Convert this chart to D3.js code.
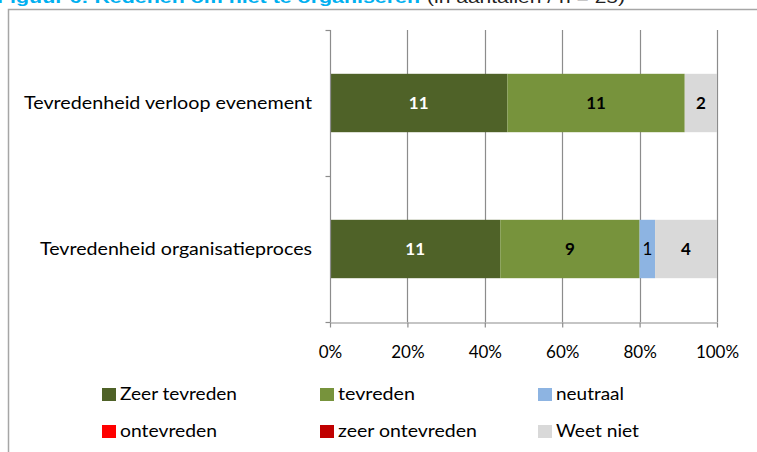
<!DOCTYPE html>
<html><head><meta charset="utf-8">
<script src="https://cdn.jsdelivr.net/npm/d3@7"></script>
<style>body{margin:0;background:#fff;}svg{display:block;}</style>
</head><body>
<svg id="c" width="757" height="452"></svg>
<script>
const categories = ["Tevredenheid verloop evenement", "Tevredenheid organisatieproces"];
const seriesNames = ["Zeer tevreden", "tevreden", "neutraal", "ontevreden", "zeer ontevreden", "Weet niet"];
const seriesColors = ["#4F6228", "#77933C", "#8DB4E2", "#FF0000", "#C00000", "#D9D9D9"];
const zeerTevreden = [11, 11];
const tevreden = [11, 9];
const neutraal = [0, 1];
const ontevreden = [0, 0];
const zeerOntevreden = [0, 0];
const weetNiet = [2, 4];
const xTicks = [0, 0.2, 0.4, 0.6, 0.8, 1.0];
const titleMain = "Figuur 6: Redenen om niet te organiseren";
const titleSub = "(in aantallen / n = 25)";

const svg = d3.select("#c");
const font = "Lato, 'Open Sans', sans-serif";

// cut-off title (only its lower part is visible in the frame)
svg.append("text").attr("x", -3).attr("y", 3).attr("font-family", "'Liberation Sans', Arial, sans-serif")
  .attr("font-size", 17).attr("font-weight", "bold").attr("fill", "#00B0F0")
  .attr("textLength", 423).attr("lengthAdjust", "spacingAndGlyphs").text(titleMain);
svg.append("text").attr("x", 427).attr("y", 3).attr("font-family", "'Liberation Sans', Arial, sans-serif")
  .attr("font-size", 16).attr("fill", "#222").attr("textLength", 198).attr("lengthAdjust", "spacingAndGlyphs").text(titleSub);

// frame
svg.append("path").attr("d", "M8.5,452 V9.5 H757").attr("fill", "none").attr("stroke", "#A6A6A6").attr("stroke-width", 1.5);

const series = [zeerTevreden, tevreden, neutraal, ontevreden, zeerOntevreden, weetNiet];
const rows = categories.map((c, i) => {
  const r = {cat: c};
  seriesNames.forEach((s, j) => r[s] = series[j][i]);
  return r;
});
const stacked = d3.stack().keys(seriesNames).offset(d3.stackOffsetExpand)(rows);

const x = d3.scaleLinear().domain([0, 1]).range([330, 717]);
const y = d3.scaleBand().domain(categories).range([30, 322]).paddingInner(0.6).paddingOuter(0.3);
const yb = d3.scaleBand().domain(categories).range([30, 322]);

const gridColor = "#8C8C8C";
// gridlines
svg.append("g").selectAll("line").data(xTicks.slice(1)).join("line")
  .attr("x1", d => Math.round(x(d)) + 0.5).attr("x2", d => Math.round(x(d)) + 0.5)
  .attr("y1", 30).attr("y2", 322).attr("stroke", gridColor).attr("stroke-width", 1.2);

// bars
const g = svg.append("g");
stacked.forEach((s, j) => {
  g.selectAll(null).data(s).join("rect")
    .attr("x", d => x(d[0])).attr("width", d => x(d[1]) - x(d[0]))
    .attr("y", d => y(d.data.cat)).attr("height", y.bandwidth())
    .attr("fill", seriesColors[j]);
});
// labels
stacked.forEach((s, j) => {
  g.selectAll(null).data(s.filter(d => d.data[s.key] > 0)).join("text")
    .attr("x", d => (x(d[0]) + x(d[1])) / 2).attr("y", d => y(d.data.cat) + y.bandwidth() / 2 + 6)
    .attr("text-anchor", "middle").attr("font-family", font).attr("font-size", 17)
    .attr("font-weight", d => d.data[s.key] === 1 ? "normal" : "bold")
    .attr("fill", j === 0 ? "#fff" : "#000")
    .text(d => d.data[s.key]);
});

// y axis
const yAxis = svg.append("g").attr("transform", "translate(330.5,0)");
yAxis.append("line").attr("y1", 30).attr("y2", 322).attr("stroke", gridColor).attr("stroke-width", 1.2);
yAxis.selectAll(".t").data([30, yb(categories[1]), 322]).join("line")
  .attr("x1", -5).attr("x2", 0).attr("y1", d => d + 0.5).attr("y2", d => d + 0.5)
  .attr("stroke", gridColor).attr("stroke-width", 1.2);
const catWidths = [288, 272];
svg.append("g").selectAll("text").data(categories).join("text")
  .attr("x", (d, i) => 312 - catWidths[i]).attr("y", d => y(d) + y.bandwidth() / 2 + 6)
  .attr("font-family", font).attr("font-size", 17.5).attr("fill", "#000")
  .attr("textLength", (d, i) => catWidths[i]).attr("lengthAdjust", "spacingAndGlyphs")
  .text(d => d);

// x axis
const xAxis = d3.axisBottom(x).tickValues(xTicks).tickFormat(d3.format(".0%")).tickSize(5).tickSizeOuter(0);
const xg = svg.append("g").attr("transform", "translate(0,322.5)").call(xAxis);
xg.select(".domain").attr("stroke", gridColor).attr("stroke-width", 1.2);
xg.selectAll(".tick line").attr("stroke", gridColor).attr("stroke-width", 1.2);
xg.selectAll(".tick text").attr("font-family", font).attr("font-size", 17).attr("fill", "#000").attr("dy", "0").attr("y", 35);

// legend
const legX = [102, 320, 538], legY = [394, 431];
const legW = [117, 77, 68, 97, 139, 83];
const lg = svg.append("g").selectAll("g").data(seriesNames).join("g")
  .attr("transform", (d, i) => `translate(${legX[i % 3]},${legY[Math.floor(i / 3)]})`);
lg.append("rect").attr("x", 0).attr("y", -6).attr("width", 14).attr("height", 13).attr("fill", (d, i) => seriesColors[i]);
lg.append("text").attr("x", 18).attr("y", 6).attr("font-family", font).attr("font-size", 18).attr("fill", "#000")
  .attr("textLength", (d, i) => legW[i]).attr("lengthAdjust", "spacingAndGlyphs").text(d => d);
</script>
</body></html>
